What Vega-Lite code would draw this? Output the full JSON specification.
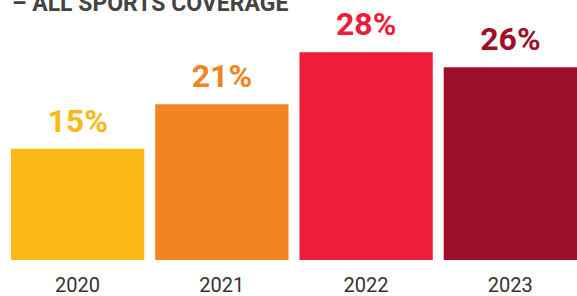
{
  "$schema": "https://vega.github.io/schema/vega-lite/v6.json",
  "autosize": {"type": "pad"},
  "width": 577,
  "height": 241,
  "padding": {"top": -7, "left": 0, "right": 0, "bottom": 0},
  "background": "white",
  "title": {
    "text": "– ALL SPORTS COVERAGE",
    "anchor": "start",
    "frame": "group",
    "offset": -7,
    "dx": 12,
    "font": "Roboto",
    "fontSize": 23,
    "fontWeight": "bold",
    "color": "#444444"
  },
  "data": {
    "values": [
      {"year": "2020", "pct": 15, "label": "15%"},
      {"year": "2021", "pct": 21, "label": "21%"},
      {"year": "2022", "pct": 28, "label": "28%"},
      {"year": "2023", "pct": 26, "label": "26%"}
    ]
  },
  "encoding": {
    "x": {
      "field": "year",
      "type": "nominal",
      "sort": null,
      "scale": {"paddingInner": 0.076, "paddingOuter": 0.038, "align": 1},
      "axis": {
        "title": null,
        "domain": false,
        "ticks": false,
        "labelAngle": 0,
        "labelFont": "Roboto",
        "labelFontSize": 20,
        "labelColor": "#333333",
        "labelPadding": 15
      }
    },
    "y": {
      "field": "pct",
      "type": "quantitative",
      "scale": {"domain": [0, 32.5], "nice": false},
      "axis": null
    },
    "color": {
      "field": "year",
      "type": "nominal",
      "scale": {
        "domain": ["2020", "2021", "2022", "2023"],
        "range": ["#FBB817", "#F48322", "#EE1D3C", "#9E1029"]
      },
      "legend": null
    }
  },
  "layer": [
    {"mark": {"type": "bar"}},
    {
      "mark": {
        "type": "text",
        "font": "Roboto",
        "fontSize": 32,
        "fontWeight": "bold",
        "baseline": "alphabetic",
        "dy": -17
      },
      "encoding": {"text": {"field": "label"}}
    }
  ],
  "config": {"view": {"stroke": null}, "axis": {"grid": false}}
}
